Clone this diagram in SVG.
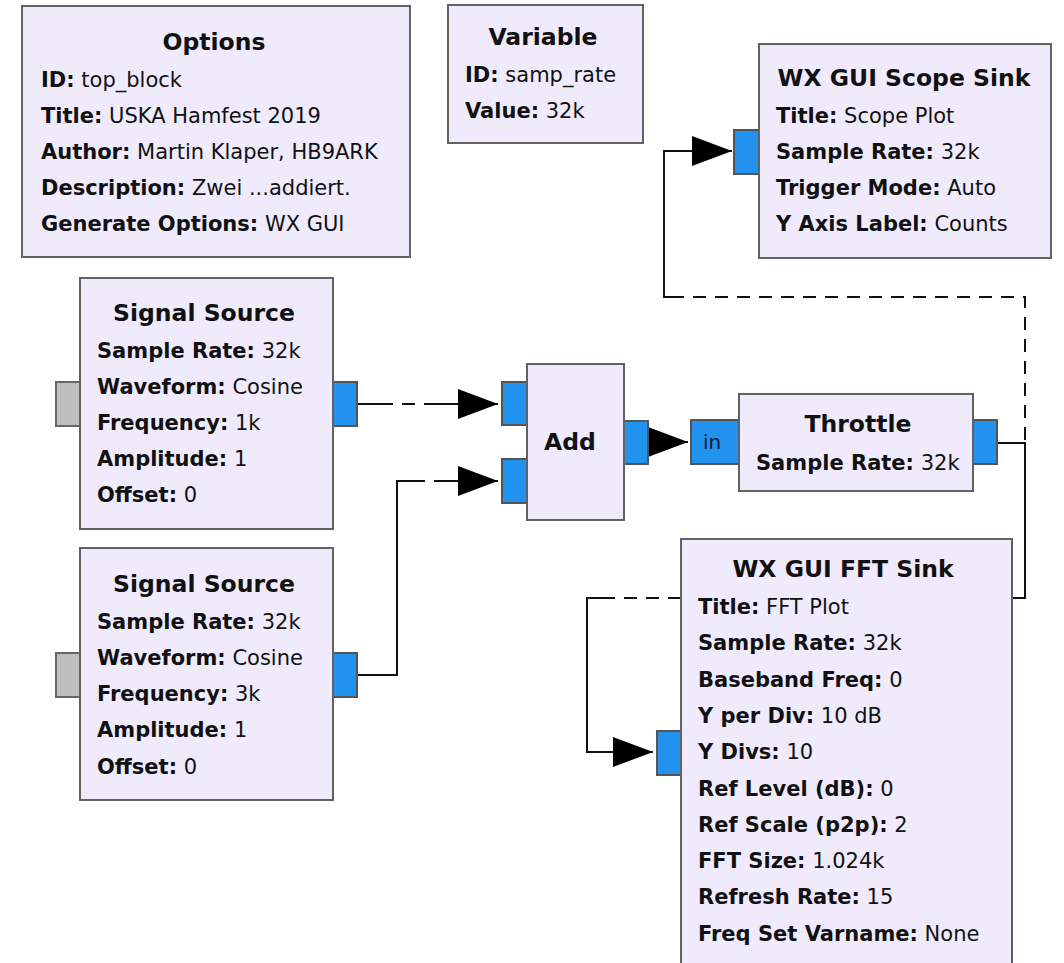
<svg xmlns="http://www.w3.org/2000/svg" width="1064" height="963" viewBox="0 0 1064 963">
<defs>
<style>
.blk{fill:#EFEBFD;stroke:#626262;stroke-width:2}
.port{fill:#2193EF;stroke:#555;stroke-width:2}
.gport{fill:#BEBEBE;stroke:#666;stroke-width:2}
.t{font-family:"DejaVu Sans",Verdana,sans-serif;font-size:21px;fill:#111}
.h{font-family:"DejaVu Sans",Verdana,sans-serif;font-size:23.5px;font-weight:bold;fill:#111;text-anchor:middle}
.b{font-weight:bold}
.v{fill:#1a1a3a}
.c{fill:none;stroke:#111;stroke-width:2}
.d{stroke-dasharray:13,9}
</style>
<marker id="arr" markerUnits="userSpaceOnUse" markerWidth="42" markerHeight="32" refX="40" refY="15" orient="auto">
<path d="M0,0 L40,15 L0,30 Z" fill="#000"/>
</marker>
</defs>
<rect width="1064" height="963" fill="#fff"/>

<g id="connectors">
<g id="c-sig1-add">
<path class="c" d="M357,404 H380"/>
<path class="c d" d="M380,404 H440"/>
<path class="c" d="M436,404 H498" marker-end="url(#arr)"/>
</g>
<g id="c-sig2-add">
<path class="c" d="M357,675 H380"/>
<path class="c" d="M380,675 H397 V481 H412"/>
<path class="c d" d="M412,481 H444"/>
<path class="c" d="M440,481 H498" marker-end="url(#arr)"/>
</g>
<g id="c-add-throttle">
<path class="c" d="M648,442 H688" marker-end="url(#arr)"/>
</g>
<g id="c-throttle-scope">
<path class="c" d="M997,443 H1020"/>
<path class="c d" d="M1025,440 V297 H680"/>
<path class="c" d="M684,297 H664 V151 H732" marker-end="url(#arr)"/>
</g>
<g id="c-throttle-fft">
<path class="c" d="M1020,443 H1025 V598 H1012"/>
<path class="c d" d="M681,598 H605"/>
<path class="c" d="M608,598 H587 V752 H653" marker-end="url(#arr)"/>
</g>
</g>

<g id="options">
<rect class="blk" x="22" y="6" width="388" height="251"/>
<text class="h" x="214" y="50">Options</text>
<text class="t" x="41" y="87"><tspan class="b">ID:</tspan> top_block</text>
<text class="t" x="41" y="123"><tspan class="b">Title:</tspan> USKA Hamfest 2019</text>
<text class="t" x="41" y="159"><tspan class="b">Author:</tspan> Martin Klaper, HB9ARK</text>
<text class="t" x="41" y="195"><tspan class="b">Description:</tspan> Zwei ...addiert.</text>
<text class="t" x="41" y="231"><tspan class="b">Generate Options:</tspan> WX GUI</text>
</g>

<g id="variable">
<rect class="blk" x="448" y="5" width="195" height="138"/>
<text class="h" x="543" y="45">Variable</text>
<text class="t" x="465" y="82"><tspan class="b">ID:</tspan> samp_rate</text>
<text class="t" x="465" y="118"><tspan class="b">Value:</tspan> 32k</text>
</g>

<g id="scope-sink">
<rect class="port" x="734" y="130" width="25" height="44"/>
<rect class="blk" x="759" y="44" width="292" height="214"/>
<text class="h" x="904" y="86">WX GUI Scope Sink</text>
<text class="t" x="776" y="123"><tspan class="b">Title:</tspan> Scope Plot</text>
<text class="t" x="776" y="159"><tspan class="b">Sample Rate:</tspan> 32k</text>
<text class="t" x="776" y="195"><tspan class="b">Trigger Mode:</tspan> Auto</text>
<text class="t" x="776" y="231"><tspan class="b">Y Axis Label:</tspan> Counts</text>
</g>

<g id="signal-source-1">
<rect class="gport" x="56" y="382" width="24" height="44"/>
<rect class="port" x="333" y="382" width="24" height="44"/>
<rect class="blk" x="80" y="278" width="253" height="251"/>
<text class="h" x="204" y="321">Signal Source</text>
<text class="t" x="97" y="358"><tspan class="b">Sample Rate:</tspan> 32k</text>
<text class="t" x="97" y="394"><tspan class="b">Waveform:</tspan> Cosine</text>
<text class="t" x="97" y="430"><tspan class="b">Frequency:</tspan> 1k</text>
<text class="t" x="97" y="466"><tspan class="b">Amplitude:</tspan> 1</text>
<text class="t" x="97" y="502"><tspan class="b">Offset:</tspan> 0</text>
</g>

<g id="signal-source-2">
<rect class="gport" x="56" y="653" width="24" height="44"/>
<rect class="port" x="333" y="653" width="24" height="44"/>
<rect class="blk" x="80" y="548" width="253" height="252"/>
<text class="h" x="204" y="592">Signal Source</text>
<text class="t" x="97" y="629"><tspan class="b">Sample Rate:</tspan> 32k</text>
<text class="t" x="97" y="665"><tspan class="b">Waveform:</tspan> Cosine</text>
<text class="t" x="97" y="701"><tspan class="b">Frequency:</tspan> 3k</text>
<text class="t" x="97" y="737"><tspan class="b">Amplitude:</tspan> 1</text>
<text class="t" x="97" y="774"><tspan class="b">Offset:</tspan> 0</text>
</g>

<g id="add">
<rect class="port" x="502" y="382" width="25" height="43"/>
<rect class="port" x="502" y="459" width="25" height="44"/>
<rect class="port" x="624" y="421" width="24" height="43"/>
<rect class="blk" x="527" y="364" width="97" height="156"/>
<text class="h" x="570" y="450">Add</text>
</g>

<g id="throttle">
<rect class="port" x="691" y="420" width="49" height="44"/>
<text class="t v" x="703" y="449" style="font-size:20px">in</text>
<rect class="port" x="973" y="420" width="24" height="44"/>
<rect class="blk" x="739" y="394" width="234" height="97"/>
<text class="h" x="858" y="432">Throttle</text>
<text class="t" x="756" y="470"><tspan class="b">Sample Rate:</tspan> 32k</text>
</g>

<g id="fft-sink">
<rect class="port" x="657" y="731" width="24" height="44"/>
<rect class="blk" x="681" y="539" width="331" height="440"/>
<text class="h" x="843" y="577">WX GUI FFT Sink</text>
<text class="t" x="698" y="614"><tspan class="b">Title:</tspan> FFT Plot</text>
<text class="t" x="698" y="650"><tspan class="b">Sample Rate:</tspan> 32k</text>
<text class="t" x="698" y="687"><tspan class="b">Baseband Freq:</tspan> 0</text>
<text class="t" x="698" y="723"><tspan class="b">Y per Div:</tspan> 10 dB</text>
<text class="t" x="698" y="759"><tspan class="b">Y Divs:</tspan> 10</text>
<text class="t" x="698" y="796"><tspan class="b">Ref Level (dB):</tspan> 0</text>
<text class="t" x="698" y="832"><tspan class="b">Ref Scale (p2p):</tspan> 2</text>
<text class="t" x="698" y="868"><tspan class="b">FFT Size:</tspan> 1.024k</text>
<text class="t" x="698" y="904"><tspan class="b">Refresh Rate:</tspan> 15</text>
<text class="t" x="698" y="941"><tspan class="b">Freq Set Varname:</tspan> None</text>
</g>
</svg>
